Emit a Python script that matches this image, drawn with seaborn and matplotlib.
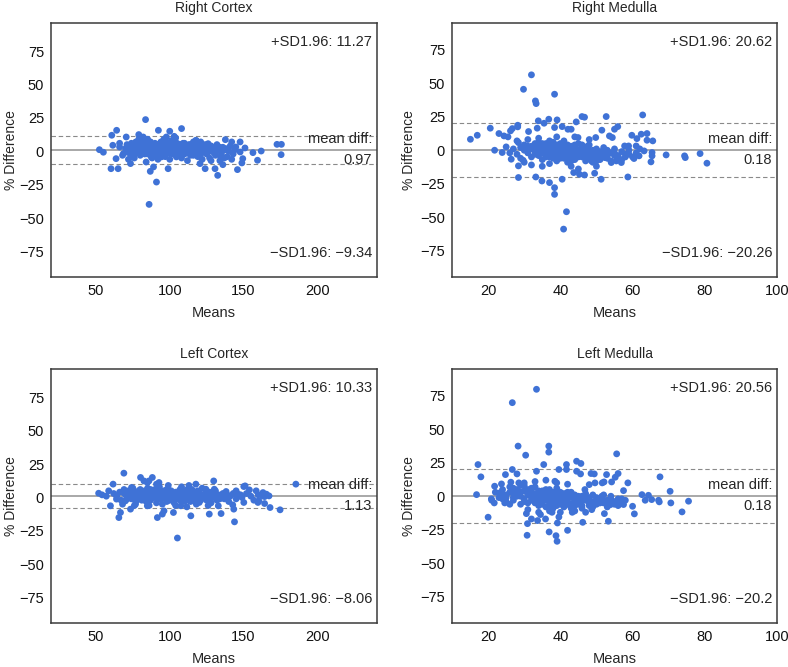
import matplotlib
matplotlib.use("Agg")
import matplotlib.pyplot as plt
import matplotlib.transforms as mtransforms
import pandas as pd
import seaborn as sns

# | Data (mean of both reads, % difference) |--------------------------------------------------------------------|
titles = ["Right Cortex", "Right Medulla", "Left Cortex", "Left Medulla"]
mean_diffs = [0.97, 0.18, 1.13, 0.18]
upper_sd = [11.27, 20.62, 10.33, 20.56]
lower_sd = [-9.34, -20.26, -8.06, -20.2]
x_limits = [(19.5, 240.5), (10, 100), (19.5, 240.5), (10, 100)]
x_ticks = [[50, 100, 150, 200], [20, 40, 60, 80, 100], [50, 100, 150, 200], [20, 40, 60, 80, 100]]
y_ticks = [-75, -50, -25, 0, 25, 50, 75]

right_cortex = [
    (52.3, 1.2), (55, -0.7), (60.2, -13), (60.7, 12), (64, 15.7), (63.6, -5.5), (65, -13), (70.5, 10.7),
    (73.4, -9.2), (79, 12.5), (83.6, 23.7), (82, 10.7), (86.8, -15), (86, -39.7), (91, -23), (92.3, 15.7),
    (89, -11.7), (98.9, -13), (100, 15), (103, 11.2), (108, 17), (97.7, 10.7), (120.5, -9.2), (124, -13),
    (130.7, -13), (132.5, -18), (136, -10), (137.7, 8.7), (134.8, -4.2), (145.9, -13.7), (148.9, -8.7),
    (151, 2.5), (156.4, -1), (159.5, -6.7), (162, 0.2), (172.7, 5.2), (175.7, 5.2), (175.5, -2.5),
    (147.7, 7), (142, 7), (144.8, 3.2), (147.7, -0.5), (149.5, -5.5), (126, 5.7), (127, 0), (117.7, 8.2),
    (116, -3), (104.5, -4.2), (108.6, -1.7), (94.3, -4.2), (87.5, -4.2), (84, -8), (75, -4.2), (68.6, -1.7),
    (66, 3.2), (61.4, 4.5),
    (70, 2), (71, 5), (72, -1), (73, 3), (74, 6), (75, 1), (75, 4), (76, -2), (77, 3), (77, 7),
    (78, 0), (78, 5), (79, 2), (80, -3), (80, 4), (81, 1), (81, 8), (82, 3), (82, -1), (83, 5),
    (83, 2), (84, 0), (84, 6), (85, 3), (85, -2), (86, 4), (86, 1), (87, 7), (87, -1), (88, 2),
    (88, 5), (89, 0), (89, 3), (90, 6), (90, -3), (91, 2), (91, 4), (92, -1), (92, 1), (93, 5),
    (93, 3), (94, 0), (94, 7), (95, 2), (95, -2), (96, 4), (96, 1), (97, 3), (97, -4), (98, 6),
    (98, 0), (99, 2), (99, 5), (100, -1), (100, 3), (101, 1), (101, 8), (102, 4), (102, -2), (103, 2),
    (103, 5), (104, 0), (104, 3), (105, -3), (105, 6), (106, 1), (106, 4), (107, -1), (107, 2), (108, 5),
    (109, 0), (109, 3), (110, -2), (110, 6), (111, 1), (112, 4), (112, -1), (113, 2), (114, 5), (114, -3),
    (115, 1), (116, 3), (117, -1), (117, 6), (118, 2), (119, -4), (119, 4), (120, 1), (121, 7), (121, -2),
    (122, 3), (123, 0), (124, 5), (125, -2), (126, 2), (127, -5), (128, 4), (129, 0), (130, 2), (131, -3),
    (132, 5), (133, 1), (135, -2), (136, 3), (137, -5), (138, 2), (140, 0), (141, 4), (143, -2), (144, 1),
    (118, 8), (116, 7), (79, 9), (85, 9), (96, 9), (104, 10), (66, 6), (68, -3), (72, -6), (76, -5),
    (88, -5), (92, -6), (100, -6), (108, -5), (112, -7), (122, -6), (128, -7), (134, -7), (139, -4), (142, -6),
    (73, 1), (74, -2), (76, 3), (78, 2), (79, -1), (80, 1), (81, 5), (82, 2), (83, -2), (84, 4),
    (85, 1), (86, 6), (86, -1), (87, 2), (88, 0), (89, 5), (90, 1), (90, 3), (91, -1), (92, 5),
    (93, 0), (94, 3), (95, 5), (96, -1), (97, 6), (98, 2), (99, -1), (100, 5), (101, 2), (102, 6),
    (103, -1), (104, 1), (105, 3), (106, -2), (107, 5), (108, 2), (109, 6), (110, 1), (111, -1), (112, 2),
    (113, 5), (114, 1), (115, -1), (116, 5), (117, 2), (118, -2), (119, 1), (120, 3), (121, 4), (122, 0),
    (123, 2), (124, -1), (125, 3), (126, 5), (127, 1), (129, 3), (130, -1), (132, 2), (134, 3), (137, 1),
]

right_medulla = [
    (15.1, 8.2), (17, 11.2), (20.6, 16.5), (21.8, 0), (23, 12.5), (23.9, -1.7), (24.4, 10.7), (25.5, 10),
    (25, 2.5), (26.2, 14.5), (26.7, 16.2), (28.2, 17.5), (28.2, 18.7), (28.4, -11.7), (28.4, -20.4),
    (26.4, -6.7), (28.4, 5.7), (29.7, -7.5), (29.8, 45.6), (32, 56.4), (33.1, 36.9), (33.3, 34.9),
    (31.2, 14), (33.9, 22), (33.6, 16.5), (33.2, -20), (34.9, -23), (35.5, 20.2), (36.8, 23.2), (37, -24.2),
    (38.4, 17), (38.4, 41.9), (39.1, 22.7), (38.4, -28), (38.4, -33), (40.5, -21.7), (40.5, 17.7),
    (41.7, -46), (40.9, -59), (42.1, 15.7), (43, 15.7), (44.4, 21.2), (46, 25.2), (46.7, 24.7), (44.9, 9.5),
    (43.7, -16.7), (45.3, -18), (46.7, -18.5), (49.5, -17.2), (49.8, 9.5), (51.3, -21.7), (51.5, 15),
    (52.7, 25.2), (55, 15.7), (55.9, 17.7), (53.6, 10.7), (54.4, 9.5), (58.7, -20), (59.8, 11.2),
    (61.2, 8.7), (62.4, 12), (62.8, 26.4), (64, 12.5), (64, 7.5), (65.6, 7), (65.4, -1.7), (65.1, -8.7),
    (65.4, -4.2), (69.3, -3.5), (74.4, -4.2), (74.6, -5.5), (78.7, -2.5), (80.6, -9.7), (57.8, 3.2),
    (58.9, 3.2), (56.9, -9.2), (55.5, -8), (54.1, -9.2), (52.3, -5.5), (50.4, -6.7), (48.6, -8),
    (47.6, 3.2), (61, 3.2), (60.4, -6.2), (63.2, -0.5), (61.8, -4.2),
    (27, 1), (28, -3), (29, 2), (29, -6), (30, 0), (30, 4), (31, -2), (31, 3), (32, -5), (32, 1),
    (33, 5), (33, -1), (33, 2), (34, -4), (34, 0), (34, 6), (35, -2), (35, 3), (35, -7), (36, 1),
    (36, 5), (36, -3), (36, 0), (37, -5), (37, 2), (37, 7), (37, -1), (38, 3), (38, -4), (38, 0),
    (38, 6), (39, -2), (39, 1), (39, -8), (39, 4), (40, 0), (40, -3), (40, 5), (40, 2), (40, -6),
    (41, -1), (41, 3), (41, -4), (41, 7), (42, 1), (42, -2), (42, -9), (42, 4), (43, 0), (43, -5),
    (43, 3), (44, -1), (44, -7), (44, 2), (45, -3), (45, 5), (45, 0), (46, -5), (46, 2), (46, -1),
    (47, -8), (47, 1), (47, -3), (48, 0), (48, -6), (48, 4), (49, -2), (49, -9), (50, 1), (50, -4),
    (51, -1), (51, -7), (52, 2), (52, -3), (53, -6), (53, 0), (54, -2), (55, -4), (55, 1), (56, -6),
    (57, -1), (58, -3), (59, 0), (60, -5), (61, -2), (62, 1), (30, -9), (32, -11), (35, -12), (37, -10),
    (43, -12), (45, -14), (50, -12), (34, 9), (39, 10), (44, 10), (48, 8), (28, 7), (26, -2), (31, 8),
    (31, 0), (32, 3), (33, -3), (34, 2), (35, 0), (35, 5), (36, -2), (36, -5), (37, 3), (37, -3),
    (38, 1), (38, -6), (39, 3), (39, -1), (39, -5), (40, 2), (40, -1), (41, 1), (41, -6), (41, 5),
    (42, -3), (42, 2), (42, -6), (43, -2), (43, 1), (43, -8), (44, -3), (44, 4), (44, 0), (45, -5),
    (45, -1), (46, -3), (46, 4), (47, -5), (47, 0), (48, -2), (48, -4), (49, 0), (49, -5), (50, -2),
    (50, -8), (51, -4), (52, -1), (53, -4), (54, -8), (55, -2), (56, -4), (57, -7), (58, -5), (59, -3),
]

left_cortex = [
    (51.8, 3.2), (54.1, 2), (57, 1), (58.6, 5), (59.8, -6.2), (61.6, 10), (63.9, -1.2), (65.5, -15),
    (66.6, -11.2), (68.9, 18.2), (68.4, 3.7), (70, -2.5), (73.4, -8.7), (74.1, 7.5), (76.8, -5), (80.2, 15),
    (82.5, 12.4), (85.9, 12.4), (88.2, 15), (84.8, -6.2), (84.8, 11.2), (92.7, 11.2), (91.6, -15), (95, -12.4),
    (96.1, -10), (102.5, -11.2), (105.2, -30.3), (107.5, -6.2), (111.6, -7), (114.3, -13.7), (117.7, 10),
    (120, -3.7), (124.5, 6.2), (126.8, -12.4), (129.8, 12.4), (130.2, 6.2), (132.9, -6.2), (134.8, -12),
    (138.2, 4.5), (142.7, -5.5), (143.4, -8.7), (143.9, -18.2), (145, 5), (148, 2), (150.2, 8.2),
    (151.1, 8.7), (150.2, -3.7), (154, 5.7), (158.6, 5), (159.8, -3.7), (160.4, -2.5), (163.2, 3.7),
    (164.3, -4.5), (165.5, 2.5), (167.3, 1.2), (168, -7.5), (174.8, -9.2), (185.5, 10), (163, 1.2),
    (164.3, 0.7), (146, 2.5), (139.3, 0), (132.5, -1.2),
    (62, 3), (64, 1), (66, 4), (67, -2), (69, 6), (70, 2), (71, -1), (72, 5), (73, 0), (74, 3),
    (75, 7), (76, 1), (77, -3), (78, 4), (79, 2), (80, 6), (80, -1), (81, 3), (82, 0), (83, 5),
    (84, 2), (84, -3), (85, 7), (86, 1), (87, 4), (87, -2), (88, 3), (89, 0), (90, 6), (90, 2),
    (91, -4), (92, 4), (93, 1), (93, 8), (94, -1), (95, 3), (96, 5), (96, 0), (97, 2), (98, -3),
    (98, 6), (99, 1), (100, 3), (100, -2), (101, 5), (102, 0), (103, 2), (103, -4), (104, 4), (105, 1),
    (106, -1), (107, 3), (107, 6), (108, 0), (109, 2), (110, -3), (110, 5), (111, 1), (112, 4), (113, -2),
    (114, 2), (115, 6), (115, 0), (116, 3), (117, -3), (118, 1), (119, 5), (120, -1), (121, 2), (122, 7),
    (123, 0), (124, 3), (125, -2), (126, 1), (127, 4), (128, -4), (129, 2), (130, 0), (131, 5), (132, -2),
    (133, 2), (135, 0), (136, 3), (137, -1), (139, 2), (140, -3), (141, 1), (143, 3), (145, -1), (147, 2),
    (149, 0), (152, 3), (155, 1), (157, -2), (160, 2), (76, -6), (86, -6), (95, -5), (104, -6), (118, -5),
    (126, -6), (91, 10), (99, 9), (108, 8), (113, 9), (68, -5),
    (72, 2), (74, -1), (76, 4), (78, 1), (79, 5), (81, -2), (82, 4), (83, 1), (85, 3), (86, -1),
    (87, 6), (88, 1), (89, 3), (91, 2), (92, -1), (93, 3), (94, 5), (95, 0), (97, 4), (98, 1),
    (99, -2), (100, 5), (101, 1), (102, 3), (104, -1), (105, 4), (106, 2), (107, -2), (108, 4), (109, 0),
    (110, 2), (111, -1), (112, 6), (113, 1), (114, -3), (116, 1), (117, 4), (118, -1), (119, 2), (120, 4),
    (121, -2), (122, 1), (124, 0), (125, 3), (127, -1), (128, 2), (130, 3), (132, 1), (134, -1), (138, 0),
]

left_medulla = [
    (16.8, 1.2), (17.2, 23.7), (18, 14.5), (20, -15.7), (20.9, -2), (21.7, -5), (21.8, 7.5), (23.2, 2.5),
    (23.7, 9.2), (24.8, 16.2), (24.6, -5), (26.3, 10.5), (26.7, 70), (26.7, 20), (28, 16.7), (28.3, 37.5),
    (28.5, 10), (30.4, 30.7), (30.6, -13), (30.9, -20.5), (30.8, -29.2), (32, -17), (33.4, 80), (33.4, 18.7),
    (33.7, -18.2), (34.5, -13.7), (35.4, 23.7), (35.9, -17), (36.8, 37.5), (36.8, 33), (36.9, -26.7),
    (37.7, -12), (38.5, 11.2), (38.8, -29.5), (39.1, -33.7), (39.2, -20), (39.6, 20), (39.6, -15.5),
    (41.7, 23.7), (41.7, 20), (42, -25.5), (42.2, -6.2), (43.3, -12), (44.5, 26.2), (44.5, 18.7),
    (45.7, 24.5), (45.6, 16.7), (46.2, -19.5), (46.8, 5), (48, 8.7), (48.5, 17), (49.4, 16.7), (48.7, -10),
    (49.6, 10), (51.6, 10), (52.1, 10.7), (52.2, -13), (53.3, -18.7), (52.8, 16.2), (54.2, 10.7),
    (55.2, 14.2), (55.6, 31.7), (56, 17), (57.5, 4.2), (58.7, 10), (60, -7.5), (60.5, -13.2), (62.6, 1.2),
    (63.5, -3), (64.4, 0.7), (65.3, -2.5), (67.2, -3), (67.6, 14.5), (67.4, -4.2), (70.4, 3.7), (70.6, -5),
    (73.7, -11.7), (75.5, -3.7), (55.2, -5), (53.8, -6.2), (57, -2.5), (56.5, -5), (57.5, -6.2),
    (51.5, 0), (50.5, -5),
    (22, 3), (23, -1), (24, 5), (25, 1), (25, -4), (26, 7), (27, 2), (27, -3), (28, 5), (28, 0),
    (29, -6), (29, 3), (30, 8), (30, -2), (31, 1), (31, -5), (32, 6), (32, -1), (32, 3), (33, -3),
    (33, 0), (33, 7), (34, -7), (34, 2), (34, -2), (35, 4), (35, -4), (35, 0), (36, -8), (36, 3),
    (36, -1), (37, 5), (37, -5), (37, 1), (38, -2), (38, -9), (38, 3), (39, 0), (39, -4), (39, 6),
    (40, -6), (40, 1), (40, -2), (41, -8), (41, 2), (41, -3), (42, 0), (42, -5), (43, -1), (43, -9),
    (43, 3), (44, -4), (44, 1), (45, -6), (45, -2), (46, 0), (46, -7), (47, -3), (47, 2), (48, -5),
    (48, -1), (49, -8), (49, 1), (50, -3), (50, -6), (51, -2), (52, -5), (52, 1), (53, -3), (54, -6),
    (54, 0), (55, -4), (56, -7), (56, -2), (57, -5), (58, -3), (31, -10), (34, -12), (37, -11), (40, -12),
    (44, -11), (47, -12), (30, 10), (33, 11), (36, 12), (39, 10), (42, 9), (26, -6), (24, -2), (21, -3),
    (24, 1), (26, 3), (27, -1), (28, 2), (29, 0), (30, 4), (30, -4), (31, 2), (32, -3), (33, 2),
    (33, -5), (34, 4), (34, -4), (35, 1), (35, -6), (36, -3), (36, 5), (37, -2), (37, -7), (38, 1),
    (38, -5), (39, 2), (39, -7), (40, 3), (40, -4), (41, 0), (41, -5), (42, -2), (42, 3), (43, -6),
    (44, -1), (44, -7), (45, 0), (46, -3), (46, -9), (47, -1), (48, -7), (49, -4), (50, -1), (51, -5),
    (52, -3), (53, -8), (54, -2), (55, -6), (56, -4), (57, -2), (31, 5), (27, 6), (29, 8), (25, -1),
]

POINT_BLUE = "#3f72d6"
LINE_GREY = "#9a9a9a"
DASH_GREY = "#8a8a8a"

sns.set_style("white")
plt.rcParams["font.family"] = ["Liberation Sans", "DejaVu Sans"]
plt.rcParams["axes.unicode_minus"] = True

frames = []
for name, pts in zip(titles, [right_cortex, right_medulla, left_cortex, left_medulla]):
    df = pd.DataFrame(pts, columns=["Means", "Diff"])
    df["panel"] = name
    frames.append(df)
data = pd.concat(frames, ignore_index=True)

fig = plt.figure(figsize=(7.88, 6.67), dpi=100)
W, H = 788, 667
boxes = [(51, 23, 377, 277), (452, 23, 777, 277), (51, 369, 377, 623), (452, 369, 777, 623)]

for i, name in enumerate(titles):
    l, t, r, b = boxes[i]
    ax = fig.add_axes([l / W, 1 - b / H, (r - l) / W, (b - t) / H])
    sub = data[data["panel"] == name]
    md = mean_diffs[i]

    ax.axhline(md, color=LINE_GREY, lw=1.2, zorder=1)
    ax.axhline(upper_sd[i], color=DASH_GREY, lw=0.8, ls=(0, (4, 2.5)), zorder=1)
    ax.axhline(lower_sd[i], color=DASH_GREY, lw=0.8, ls=(0, (4, 2.5)), zorder=1)

    sns.scatterplot(data=sub, x="Means", y="Diff", ax=ax, color=POINT_BLUE,
                    s=24, edgecolor="none", linewidth=0, zorder=3)

    ax.set_xlim(*x_limits[i])
    ax.set_ylim(md - 95, md + 95)
    ax.set_xticks(x_ticks[i])
    ax.set_yticks(y_ticks)
    ax.tick_params(length=0, pad=5, labelsize=10.5, colors="#111111")
    ax.set_xlabel("Means", fontsize=10.5, labelpad=6)
    ax.set_ylabel("% Difference", fontsize=10, labelpad=1 if i % 2 == 0 else 3)
    ax.set_title(name, fontsize=10, pad=8)
    for sp in ax.spines.values():
        sp.set_color("#3a3a3a")
        sp.set_linewidth(1.1)

    ax.text(0.985, 0.925, f"+SD1.96: {upper_sd[i]}", transform=ax.transAxes,
            ha="right", va="center", fontsize=10.5)
    ax.text(0.985, 0.094, f"\u2212SD1.96: {str(lower_sd[i]).replace('-', chr(0x2212))}",
            transform=ax.transAxes, ha="right", va="center", fontsize=10.5)
    trans = mtransforms.blended_transform_factory(ax.transAxes, ax.transData)
    ax.annotate("mean diff:", xy=(0.985, md), xycoords=trans, xytext=(0, 3),
                textcoords="offset points", ha="right", va="bottom", fontsize=10.5)
    ax.annotate(f"{md}", xy=(0.985, md), xycoords=trans, xytext=(0, -2),
                textcoords="offset points", ha="right", va="top", fontsize=10.5)

fig.savefig("out.png", dpi=100)
